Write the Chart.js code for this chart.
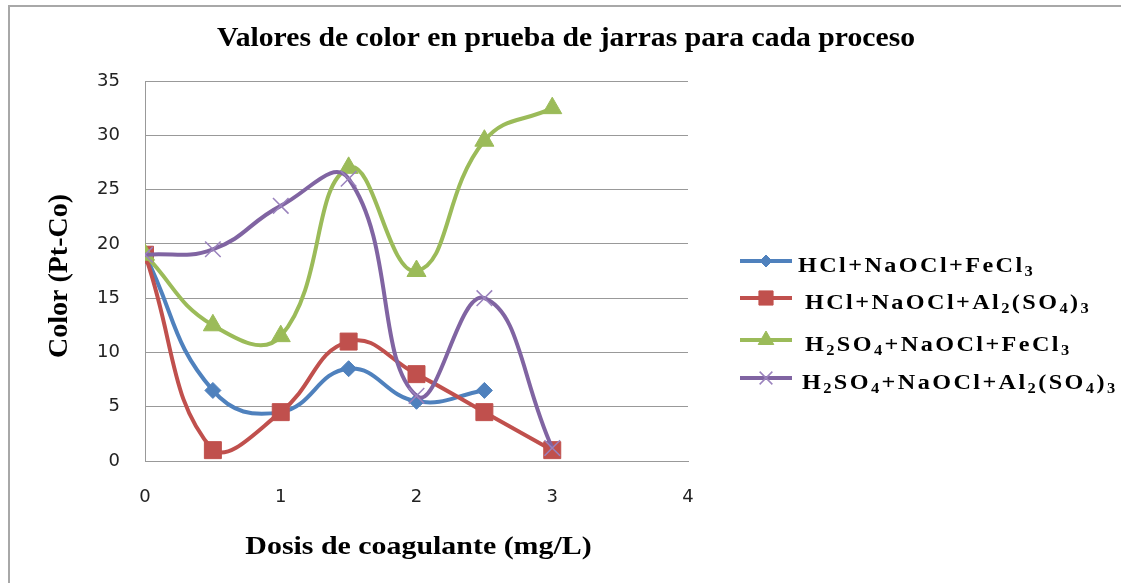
<!DOCTYPE html>
<html>
<head>
<meta charset="utf-8">
<script src="https://cdn.jsdelivr.net/npm/chart.js@4.4.1/dist/chart.umd.min.js"></script>
<style>
  html, body { margin: 0; padding: 0; background: #fff; }
  #wrap { position: relative; width: 1121px; height: 583px; overflow: hidden; }
  #frame { position: absolute; left: 8px; top: 5px; width: 1200px; height: 700px;
           border-top: 2px solid #a8a8a8; border-left: 2px solid #a8a8a8; }
  canvas { position: absolute; left: 0; top: 0; }
</style>
</head>
<body>
<div id="wrap">
  <div id="frame"></div>
  <canvas id="c" width="1121" height="583"></canvas>
</div>
<script>
const chartTitle = 'Valores de color en prueba de jarras para cada proceso';
const xTitle = 'Dosis de coagulante (mg/L)';
const yTitle = 'Color (Pt-Co)';
const seriesNames = ['HCl+NaOCl+FeCl₃', 'HCl+NaOCl+Al₂(SO₄)₃', 'H₂SO₄+NaOCl+FeCl₃', 'H₂SO₄+NaOCl+Al₂(SO₄)₃'];
const dosis = [0, 0.5, 1, 1.5, 2, 2.5, 3];
const hclFe = [19, 6.5, 4.5, 8.5, 5.5, 6.5];
const hclAl = [19, 1, 4.5, 11, 8, 4.5, 1];
const h2so4Fe = [19, 12.5, 11.5, 27, 17.5, 29.5, 32.5];
const h2so4Al = [19, 19.5, 23.5, 26, 6, 15, 1.2];
const xTicks = [0, 1, 2, 3, 4];
const yTicks = [0, 5, 10, 15, 20, 25, 30, 35];

const colors = ['#4F81BD', '#C0504D', '#9BBB59', '#8064A2'];
const styles = [
  { pointStyle: 'rectRot', radius: 8, legendRadius: 6, borderWidth: 1 },
  { pointStyle: 'rect', radius: 12, legendRadius: 10, borderWidth: 1 },
  { pointStyle: 'triangle', radius: 11, legendRadius: 9, borderWidth: 1 },
  { pointStyle: 'crossRot', radius: 11, legendRadius: 9, borderWidth: 1.5 }
];
const allValues = [hclFe, hclAl, h2so4Fe, h2so4Al];

const datasets = allValues.map((vals, i) => ({
  label: seriesNames[i],
  data: vals.map((v, j) => ({ x: dosis[j], y: v })),
  borderColor: colors[i],
  backgroundColor: colors[i],
  borderWidth: 4,
  tension: 0.45,
  showLine: true,
  pointStyle: styles[i].pointStyle,
  pointRadius: styles[i].radius,
  pointHoverRadius: styles[i].radius,
  pointBorderWidth: styles[i].borderWidth,
  pointBorderColor: i === 3 ? '#9a82bd' : colors[i],
  pointBackgroundColor: colors[i],
  order: 3 - i
}));

const serif = '"Liberation Serif", "Times New Roman", serif';

// Draws text with subscript digits, horizontal scale and letter spacing.
function drawRich(ctx, text, x, y, size, sx, spacing) {
  const subs = { '₂': '2', '₃': '3', '₄': '4' };
  let cx = x;
  for (const ch of text) {
    const isSub = !!subs[ch];
    const g = isSub ? subs[ch] : ch;
    ctx.font = 'bold ' + (isSub ? Math.round(size * 0.68) : size) + 'px ' + serif;
    ctx.save();
    ctx.translate(cx, y + (isSub ? size * 0.16 : 0));
    ctx.scale(sx, 1);
    ctx.fillText(g, 0, 0);
    ctx.restore();
    cx += ctx.measureText(g).width * sx + spacing;
  }
}

function drawStretched(ctx, text, cx, y, font, sx) {
  ctx.save();
  ctx.font = font;
  ctx.textAlign = 'center';
  ctx.translate(cx, y);
  ctx.scale(sx, 1);
  ctx.fillText(text, 0, 0);
  ctx.restore();
}

const customDraw = {
  id: 'customDraw',
  afterDraw(chart) {
    const ctx = chart.ctx;
    const area = chart.chartArea;
    ctx.save();
    ctx.fillStyle = '#000';
    ctx.textBaseline = 'alphabetic';
    // chart title
    drawStretched(ctx, chartTitle, 566, 46, 'bold 27px ' + serif, 1.1);
    // x axis title
    drawStretched(ctx, xTitle, (area.left + area.right) / 2 + 2, 554, 'bold 26px ' + serif, 1.15);
    // y axis title
    ctx.save();
    ctx.translate(67, (area.top + area.bottom) / 2 + 5);
    ctx.rotate(-Math.PI / 2);
    ctx.font = 'bold 28px ' + serif;
    ctx.textAlign = 'center';
    ctx.fillText(yTitle, 0, 0);
    ctx.restore();
    // legend
    ctx.textAlign = 'left';
    const ys = [261, 298, 340, 378];
    const xs = [798, 805, 805, 802];
    for (let i = 0; i < 4; i++) {
      const y = ys[i];
      ctx.strokeStyle = colors[i];
      ctx.lineWidth = 4;
      ctx.beginPath();
      ctx.moveTo(740, y);
      ctx.lineTo(792, y);
      ctx.stroke();
      ctx.fillStyle = colors[i];
      ctx.strokeStyle = i === 3 ? '#9a82bd' : colors[i];
      ctx.lineWidth = styles[i].borderWidth;
      Chart.helpers.drawPoint(ctx, { pointStyle: styles[i].pointStyle, radius: styles[i].legendRadius, borderWidth: styles[i].borderWidth }, 766, y);
      ctx.fillStyle = '#000';
      drawRich(ctx, seriesNames[i], xs[i], y + 11, 22, 1.1, 2.4);
    }
    ctx.restore();
  }
};

const tickFont = { family: '"DejaVu Sans", Verdana, sans-serif', size: 18 };

new Chart(document.getElementById('c'), {
  type: 'scatter',
  data: { datasets },
  options: {
    responsive: false,
    animation: false,
    events: [],
    layout: { padding: { left: 0, top: 81, right: 433, bottom: 0 } },
    plugins: { legend: { display: false }, title: { display: false }, tooltip: { enabled: false } },
    scales: {
      x: {
        type: 'linear', min: 0, max: 4,
        afterFit(s) { s.height = 122; },
        afterBuildTicks(s) { s.ticks = xTicks.map(v => ({ value: v })); },
        grid: { display: false, drawTicks: false },
        border: { display: true, color: '#999', width: 1 },
        ticks: { padding: 26, color: '#222', font: tickFont }
      },
      y: {
        type: 'linear', min: 0, max: 35,
        afterFit(s) { s.width = 145; },
        afterBuildTicks(s) { s.ticks = yTicks.map(v => ({ value: v })); },
        grid: { color: '#999', lineWidth: 1, drawTicks: false },
        border: { display: true, color: '#999', width: 1 },
        ticks: { padding: 25, color: '#222', font: tickFont }
      }
    }
  },
  plugins: [customDraw]
});
</script>
</body>
</html>
